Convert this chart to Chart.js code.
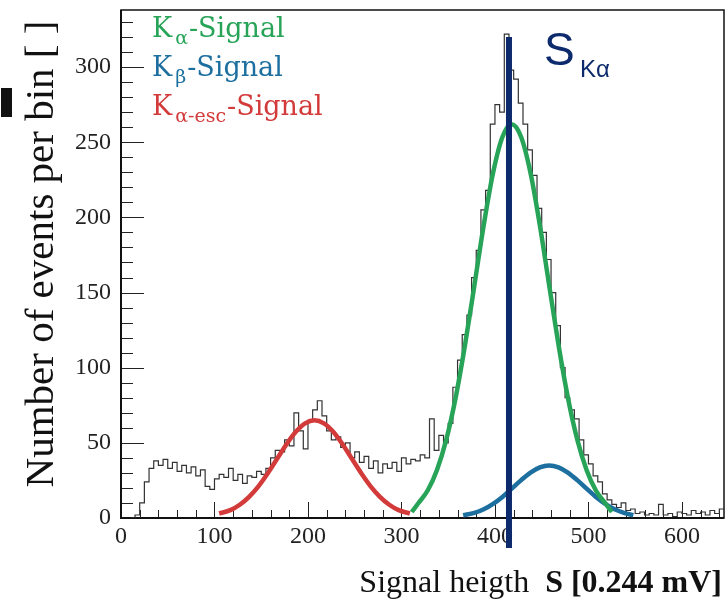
<!DOCTYPE html>
<html>
<head>
<meta charset="utf-8">
<script src="https://cdn.jsdelivr.net/npm/chart.js@4.4.1/dist/chart.umd.min.js"></script>
<style>
  body { margin: 0; background: #fff; }
</style>
</head>
<body>
<canvas id="chart" width="727" height="601"></canvas>
<script>
// histogram: left bin edges and counts (last edge closes the final bin)
const binEdges = [10, 15, 20, 25, 30, 35, 40, 45, 50, 55, 60, 65, 70, 75, 80, 85, 90, 95,
  100, 105, 110, 115, 120, 125, 130, 135, 140, 145, 150, 155, 160, 165, 170, 175, 180, 185, 190, 195,
  200, 205, 210, 215, 220, 225, 230, 235, 240, 245, 250, 255, 260, 265, 270, 275, 280, 285, 290, 295,
  300, 305, 310, 315, 320, 325, 330, 335, 340, 345, 350, 355, 360, 365, 370, 375, 380, 385, 390, 395,
  400, 405, 410, 415, 420, 425, 430, 435, 440, 445, 450, 455, 460, 465, 470, 475, 480, 485, 490, 495,
  500, 505, 510, 515, 520, 525, 530, 535, 540, 545, 550, 555, 560, 565, 570, 575, 580, 585, 590, 595,
  600, 605, 610, 615, 620, 625, 630, 635, 640, 645]
const binCounts = [0, 2, 10, 24, 33, 38, 35, 39, 33, 37, 31, 35, 30, 34, 28, 32, 21, 19,
  26, 29, 27, 33, 25, 29, 23, 28, 27, 31, 29, 33, 40, 45, 44, 52, 48, 70, 58, 46,
  65, 72, 78, 68, 58, 52, 54, 47, 50, 40, 44, 37, 41, 33, 38, 30, 36, 33, 37, 31,
  40, 36, 39, 38, 42, 40, 66, 45, 55, 50, 63, 87, 105, 122, 135, 160, 178, 205, 218, 262,
  275, 270, 322, 298, 292, 276, 262, 245, 228, 206, 190, 172, 150, 128, 100, 80, 72, 66, 52, 42,
  36, 28, 24, 16, 12, 9, 7, 10, 5, 6, 3, 4, 2, 3, 2, 9, 2, 3, 1, 4,
  3, 2, 5, 3, 4, 2, 5, 3, 6, 6]

// fitted curves
const kaX = [311, 318, 328, 338, 348, 358, 368, 378, 388, 398, 408, 418, 428, 438, 448, 458, 468, 478, 488, 498, 508, 518, 525]
const kaY = [4, 9.8, 18.3, 32, 52.3, 80.2, 115.2, 154.8, 194.9, 229.7, 253.5, 262, 253.5, 229.7, 194.9, 154.8, 115.2, 80.2, 52.3, 32, 18.3, 9.8, 4]
const kbX = [366, 378, 388, 398, 408, 418, 428, 438, 448, 458, 468, 478, 488, 498, 508, 518, 528, 538, 548]
const kbY = [1.8, 3.4, 5.8, 9.4, 14, 19.5, 25.2, 30.2, 33.7, 35, 33.7, 30.2, 25.2, 19.5, 14, 9.4, 5.8, 3.4, 1.8]
const escX = [105, 117, 127, 137, 147, 157, 167, 177, 187, 197, 207, 217, 227, 237, 247, 257, 267, 277, 287, 297, 309]
const escY = [3, 5.2, 8.8, 14.1, 21.1, 29.8, 39.4, 49.1, 57.4, 63, 65, 63, 57.4, 49.1, 39.4, 29.8, 21.1, 14.1, 8.8, 5.2, 3]

// S_Kalpha marker
const sKaX = [415, 415]
const sKaY = [320, -20]

const xTicks = [0, 100, 200, 300, 400, 500, 600]
const yTicks = [0, 50, 100, 150, 200, 250, 300]

const GREEN = '#27a458'
const BLUE = '#1c6f9f'
const RED = '#d33a3a'
const NAVY = '#0c2a6c'

function pts(xs, ys) {
  return xs.map((x, i) => ({ x: x, y: ys[i] }))
}

const frame = {
  id: 'frame',
  beforeDatasetsDraw(chart) {
    const ctx = chart.ctx
    const a = chart.chartArea
    const xs = chart.scales.x
    const ys = chart.scales.y
    ctx.save()
    ctx.strokeStyle = '#222'
    ctx.lineWidth = 1
    // minor + major ticks, pointing inward
    for (let v = 0; v <= xs.max; v += 20) {
      const px = Math.round(xs.getPixelForValue(v)) + 0.5
      const len = v % 100 === 0 ? 16 : 8
      ctx.beginPath()
      ctx.moveTo(px, a.bottom)
      ctx.lineTo(px, a.bottom - len)
      ctx.stroke()
    }
    for (let v = 0; v <= ys.max; v += 10) {
      const py = Math.round(ys.getPixelForValue(v)) + 0.5
      const len = v % 50 === 0 ? 23 : 12
      ctx.beginPath()
      ctx.moveTo(a.left, py)
      ctx.lineTo(a.left + len, py)
      ctx.stroke()
    }
    // box
    ctx.strokeStyle = '#111'
    ctx.lineWidth = 1.5
    ctx.strokeRect(a.left, a.top, a.right - a.left, a.bottom - a.top)
    ctx.lineWidth = 2
    ctx.beginPath()
    ctx.moveTo(a.left, a.top)
    ctx.lineTo(a.left, a.bottom)
    ctx.lineTo(a.right, a.bottom)
    ctx.stroke()
    ctx.restore()
  },
  afterDraw(chart) {
    const ctx = chart.ctx
    ctx.save()
    // legend text
    const legend = [
      { main: 'K', sub: 'α', rest: '-Signal', color: GREEN, y: 37 },
      { main: 'K', sub: 'β', rest: '-Signal', color: BLUE, y: 76 },
      { main: 'K', sub: 'α-esc', rest: '-Signal', color: RED, y: 115 }
    ]
    legend.forEach(l => {
      let x = 152
      ctx.fillStyle = l.color
      ctx.textBaseline = 'alphabetic'
      ctx.font = '27px "DejaVu Serif"'
      ctx.fillText(l.main, x, l.y)
      x += ctx.measureText(l.main).width + 3
      ctx.font = '19px "DejaVu Serif"'
      ctx.fillText(l.sub, x, l.y + 7)
      x += ctx.measureText(l.sub).width + 1
      ctx.font = '27px "DejaVu Serif"'
      ctx.fillText(l.rest, x, l.y)
    })
    // S_Kalpha label
    ctx.fillStyle = NAVY
    ctx.font = '46px "Liberation Sans"'
    ctx.fillText('S', 544, 65)
    ctx.font = '24px "Liberation Sans"'
    ctx.fillText('Kα', 580, 77)
    // y axis title
    ctx.fillStyle = '#111'
    ctx.font = '41px "Liberation Serif"'
    ctx.save()
    ctx.translate(53, 254)
    ctx.rotate(-Math.PI / 2)
    ctx.textAlign = 'center'
    ctx.fillText('Number of events per bin [ ]', 0, 0)
    ctx.restore()
    ctx.fillRect(1, 88, 11, 29)
    // x axis title
    ctx.font = '32px "Liberation Serif"'
    const t1 = 'Signal heigth  '
    const w1 = ctx.measureText(t1).width
    ctx.font = 'bold 32px "Liberation Serif"'
    const t2 = 'S [0.244 mV]'
    const w2 = ctx.measureText(t2).width
    const x0 = 722 - w1 - w2
    ctx.font = '32px "Liberation Serif"'
    ctx.fillText(t1, x0, 592)
    ctx.font = 'bold 32px "Liberation Serif"'
    ctx.fillText(t2, x0 + w1, 592)
    ctx.restore()
  }
}

new Chart(document.getElementById('chart'), {
  type: 'line',
  data: {
    datasets: [
      {
        label: 'S Kα',
        data: pts(sKaX, sKaY),
        borderColor: NAVY,
        borderWidth: 6,
        pointRadius: 0,
        clip: false,
        order: 0
      },
      {
        label: 'Kα-Signal',
        data: pts(kaX, kaY),
        borderColor: GREEN,
        borderWidth: 4.5,
        pointRadius: 0,
        cubicInterpolationMode: 'monotone',
        order: 1
      },
      {
        label: 'Kβ-Signal',
        data: pts(kbX, kbY),
        borderColor: BLUE,
        borderWidth: 4.5,
        pointRadius: 0,
        cubicInterpolationMode: 'monotone',
        order: 2
      },
      {
        label: 'Kα-esc-Signal',
        data: pts(escX, escY),
        borderColor: RED,
        borderWidth: 4.5,
        pointRadius: 0,
        cubicInterpolationMode: 'monotone',
        order: 3
      },
      {
        label: 'data',
        data: pts(binEdges, binCounts.map((c, i) => i === binCounts.length - 1 ? binCounts[i - 1] : c)),
        borderColor: '#333',
        borderWidth: 1.2,
        pointRadius: 0,
        stepped: 'before',
        order: 4
      }
    ]
  },
  options: {
    animation: false,
    responsive: false,
    maintainAspectRatio: false,
    layout: { padding: { top: 10, right: 3, left: 0, bottom: 0 } },
    plugins: {
      legend: { display: false },
      tooltip: { enabled: false }
    },
    scales: {
      x: {
        type: 'linear',
        min: 0,
        max: 645,
        grid: { display: false, drawTicks: false },
        border: { display: false },
        afterBuildTicks: s => { s.ticks = xTicks.map(v => ({ value: v })) },
        afterFit: s => { s.height = 83; s.paddingLeft = 0; s.paddingRight = 0 },
        ticks: {
          padding: 4,
          maxRotation: 0,
          color: '#222',
          font: { family: 'Liberation Serif', size: 24 }
        }
      },
      y: {
        min: 0,
        max: 338,
        grid: { display: false, drawTicks: false },
        border: { display: false },
        afterBuildTicks: s => { s.ticks = yTicks.map(v => ({ value: v })) },
        afterFit: s => { s.width = 121; s.paddingTop = 0; s.paddingBottom = 0 },
        ticks: {
          padding: 10,
          color: '#222',
          font: { family: 'Liberation Serif', size: 24 }
        }
      }
    }
  },
  plugins: [frame]
})
</script>
</body>
</html>
